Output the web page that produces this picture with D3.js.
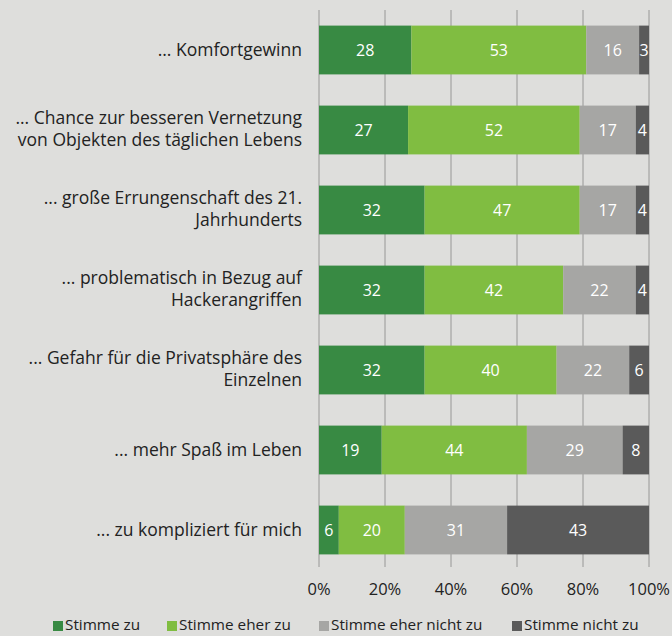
<!DOCTYPE html>
<html>
<head>
<meta charset="utf-8">
<script src="https://cdn.jsdelivr.net/npm/d3@7"></script>
<style>
  body { margin: 0; background: #dededc; }
  svg { display: block; font-family: "Open Sans", "Noto Sans", sans-serif; }
</style>
</head>
<body>
<script>
// Categories (each line of the label is one entry)
var categories = [
  ["... Komfortgewinn"],
  ["... Chance zur besseren Vernetzung", "von Objekten des täglichen Lebens"],
  ["... große Errungenschaft des 21.", "Jahrhunderts"],
  ["... problematisch in Bezug auf", "Hackerangriffen"],
  ["... Gefahr für die Privatsphäre des", "Einzelnen"],
  ["... mehr Spaß im Leben"],
  ["... zu kompliziert für mich"]
];

var seriesNames = ["Stimme zu", "Stimme eher zu", "Stimme eher nicht zu", "Stimme nicht zu"];
var seriesColors = ["#388a43", "#80bd41", "#a6a6a4", "#5a5a5a"];

var stimmeZu = [28, 27, 32, 32, 32, 19, 6];
var stimmeEherZu = [53, 52, 47, 42, 40, 44, 20];
var stimmeEherNichtZu = [16, 17, 17, 22, 22, 29, 31];
var stimmeNichtZu = [3, 4, 4, 4, 6, 8, 43];

var xTicks = [0, 20, 40, 60, 80, 100];

// Page dimensions
var W = 672, H = 636;
var margin = { top: 10, left: 319, right: 23 };
var plotW = W - margin.left - margin.right;
var plotH = 560;

var svg = d3.select("body").append("svg")
  .attr("width", W)
  .attr("height", H);

var g = svg.append("g")
  .attr("transform", "translate(" + margin.left + "," + margin.top + ")");

var x = d3.scaleLinear().domain([0, 100]).range([0, plotW]);
var y = d3.scaleBand()
  .domain(d3.range(categories.length))
  .range([0, plotH])
  .paddingInner(0.39)
  .paddingOuter(0.195);

// Gridlines
g.selectAll(".grid")
  .data(xTicks)
  .enter().append("line")
  .attr("x1", function(d) { return x(d); })
  .attr("x2", function(d) { return x(d); })
  .attr("y1", 0)
  .attr("y2", plotH - 3)
  .attr("stroke", "#a8a8a6")
  .attr("stroke-width", 1.3);

// Stack the data
var rows = categories.map(function(c, i) {
  return { i: i, v0: stimmeZu[i], v1: stimmeEherZu[i], v2: stimmeEherNichtZu[i], v3: stimmeNichtZu[i] };
});
var stack = d3.stack().keys(["v0", "v1", "v2", "v3"]);
var series = stack(rows);

var layer = g.selectAll(".layer")
  .data(series)
  .enter().append("g")
  .attr("fill", function(d, k) { return seriesColors[k]; });

layer.selectAll("rect")
  .data(function(d) { return d; })
  .enter().append("rect")
  .attr("x", function(d) { return x(d[0]); })
  .attr("y", function(d) { return y(d.data.i); })
  .attr("width", function(d) { return x(d[1]) - x(d[0]); })
  .attr("height", y.bandwidth());

layer.selectAll("text")
  .data(function(d) { return d; })
  .enter().append("text")
  .attr("x", function(d) { return (x(d[0]) + x(d[1])) / 2; })
  .attr("y", function(d) { return y(d.data.i) + y.bandwidth() / 2; })
  .attr("dy", "0.36em")
  .attr("text-anchor", "middle")
  .attr("fill", "#ffffff")
  .style("font-size", "16px")
  .text(function(d) { return d[1] - d[0]; });

// Category labels
var labels = g.selectAll(".cat")
  .data(categories)
  .enter().append("text")
  .attr("text-anchor", "end")
  .attr("fill", "#222222")
  .style("font-size", "17.5px")
  .attr("transform", function(d, i) { return "translate(-17," + (y(i) + y.bandwidth() / 2) + ")"; });

labels.selectAll("tspan")
  .data(function(d) { return d.map(function(t, j) { return { t: t, j: j, n: d.length }; }); })
  .enter().append("tspan")
  .attr("x", 0)
  .attr("y", function(d) { return (d.j - (d.n - 1) / 2) * 22.5 - (d.n - 1); })
  .attr("dy", "0.35em")
  .text(function(d) { return d.t; });

// X axis tick labels
g.selectAll(".tick-label")
  .data(xTicks)
  .enter().append("text")
  .attr("x", function(d) { return x(d); })
  .attr("y", plotH + 19)
  .attr("dy", "0.35em")
  .attr("text-anchor", "middle")
  .attr("fill", "#222222")
  .style("font-size", "16.5px")
  .text(function(d) { return d + "%"; });

// Legend
var legendX = [53, 167, 319, 512];
var legend = svg.selectAll(".legend")
  .data(seriesNames)
  .enter().append("g")
  .attr("transform", function(d, k) { return "translate(" + legendX[k] + ",630)"; });

legend.append("rect")
  .attr("x", 0)
  .attr("y", -9)
  .attr("width", 10)
  .attr("height", 10)
  .attr("fill", function(d, k) { return seriesColors[k]; });

legend.append("text")
  .attr("x", 12)
  .attr("y", 0)
  .attr("fill", "#222222")
  .style("font-size", "15.3px")
  .text(function(d) { return d; });
</script>
</body>
</html>
